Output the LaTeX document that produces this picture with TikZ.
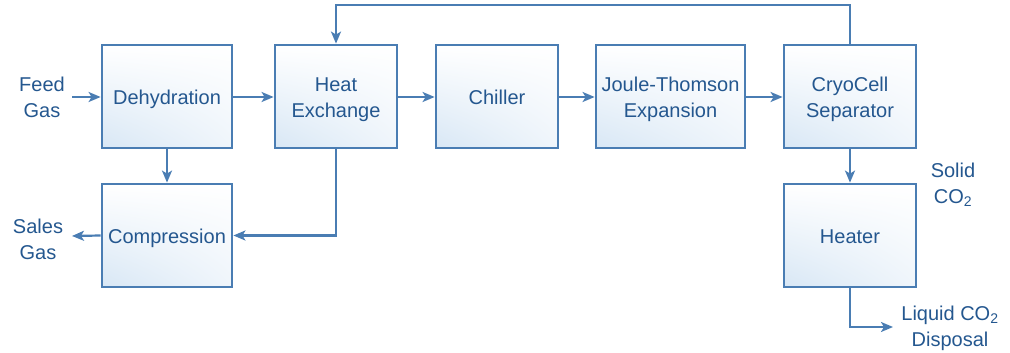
\documentclass[tikz,border=0pt]{standalone}
\usepackage{fontspec}
\setmainfont{Liberation Sans}
\usetikzlibrary{arrows.meta,shadings}
\definecolor{boxline}{HTML}{4A7DB3}
\definecolor{txt}{HTML}{24578F}
\definecolor{boxfill}{HTML}{D8E7F5}
\newcommand\lowtxt[1]{\raisebox{-3pt}[\height][\depth]{\begin{tabular}{@{}c@{}}#1\end{tabular}}}
\tikzset{
  proc/.style={draw=boxline, line width=2.8pt, inner sep=0pt, align=center,
    text=txt, font=\fontsize{20}{26}\selectfont,
    upper left=white, upper right=white, lower left=boxfill, lower right=white!60!boxfill},
  flow/.style={draw=boxline, line width=2.2pt, -{Stealth[length=12pt,width=10pt,inset=3pt]}},
  lbl/.style={text=txt, align=center, font=\fontsize{20}{26}\selectfont, inner sep=0pt}
}
\begin{document}
\begin{tikzpicture}[x=1pt,y=-1pt]
\useasboundingbox (0,0) rectangle (1010,353);
\node[proc, minimum width=130pt, minimum height=103pt] (dehy) at (167,96.5) {\lowtxt{Dehydration}};
\node[proc, minimum width=122pt, minimum height=103pt] (hx) at (336,96.5) {\lowtxt{Heat\\Exchange}};
\node[proc, minimum width=122pt, minimum height=103pt] (chill) at (497,96.5) {\lowtxt{Chiller}};
\node[proc, minimum width=149pt, minimum height=103pt] (jt) at (670.5,96.5) {\lowtxt{Joule-Thomson\\Expansion}};
\node[proc, minimum width=132pt, minimum height=103pt] (cryo) at (850,96.5) {\lowtxt{CryoCell\\Separator}};
\node[proc, minimum width=130pt, minimum height=103pt] (comp) at (167,235.5) {\lowtxt{Compression}};
\node[proc, minimum width=132pt, minimum height=103pt] (heat) at (850,235.5) {\lowtxt{Heater}};

\node[lbl] (feed) at (42,97) {Feed\\Gas};
\node[lbl] (sales) at (38,239) {Sales\\Gas};
\node[lbl] (solid) at (953,185) {Solid\\CO\textsubscript{2}};
\node[lbl] (liq) at (950,328) {Liquid CO\textsubscript{2}\\Disposal};

\coordinate (feedend) at (72,97);
\coordinate (salesend) at (72,236);
\coordinate (liqend) at (893,327);
\coordinate (topy) at (0,5);

\draw[flow] (feedend) -- (dehy.west |- feedend);
\draw[flow] (dehy.east |- feedend) -- (hx.west |- feedend);
\draw[flow] (hx.east |- feedend) -- (chill.west |- feedend);
\draw[flow] (chill.east |- feedend) -- (jt.west |- feedend);
\draw[flow] (jt.east |- feedend) -- (cryo.west |- feedend);
\draw[flow] (dehy.south) -- (comp.north);
\draw[flow] (hx.south) |- (comp.east);
\draw[flow] (comp.west) -- (salesend);
\draw[flow] (cryo.north) -- (cryo.north |- topy) -| (hx.north);
\draw[flow] (cryo.south) -- (heat.north);
\draw[flow] (heat.south) |- (liqend);
\end{tikzpicture}
\end{document}
